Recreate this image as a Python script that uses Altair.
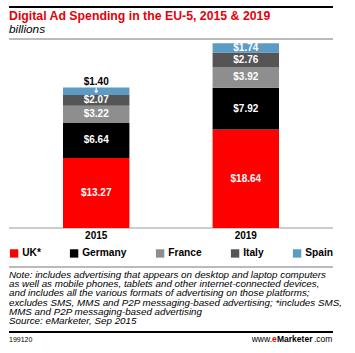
import altair as alt
import pandas as pd

# ---- data ----
years = ["2015", "2019"]
countries = ["UK*", "Germany", "France", "Italy", "Spain"]
values_2015 = [13.27, 6.64, 3.22, 2.07, 1.40]
values_2019 = [18.64, 7.92, 3.92, 2.76, 1.74]
colors = ["#fe0000", "#000000", "#8e8e8e", "#555555", "#5b9bc6"]

title_text = "Digital Ad Spending in the EU-5, 2015 & 2019"
subtitle_text = "billions"
note_lines = [
    "Note: includes advertising that appears on desktop and laptop computers",
    "as well as mobile phones, tablets and other internet-connected devices,",
    "and includes all the various formats of advertising on those platforms;",
    "excludes SMS, MMS and P2P messaging-based advertising; *includes SMS,",
    "MMS and P2P messaging-based advertising",
    "Source: eMarketer, Sep 2015",
]
chart_id = "199120"

FONT = "Liberation Sans"

rows = []
for yr, vals in zip(years, [values_2015, values_2019]):
    cum = 0.0
    for i, (c, v) in enumerate(zip(countries, vals)):
        rows.append({
            "year": yr, "country": c, "order": i, "value": v,
            "start": cum, "end": cum + v, "mid": cum + v / 2,
            "label": f"${v:.2f}", "outside": v < 1.5,
        })
        cum += v
df = pd.DataFrame(rows)

xscale = alt.Scale(domain=years, range=[21.4, 320.6], paddingInner=0.556, paddingOuter=0.278)
yscale = alt.Scale(domain=[0, 35], range=[228, 43.2], nice=False, zero=True)

base = alt.Chart(df)

bars = base.mark_bar(strokeWidth=0).encode(
    x=alt.X("year:N", scale=xscale, axis=None),
    y=alt.Y("start:Q", scale=yscale, axis=None),
    y2="end:Q",
    color=alt.Color(
        "country:N",
        scale=alt.Scale(domain=countries, range=colors),
        legend=alt.Legend(
            orient="none", legendX=9, legendY=248, direction="horizontal",
            title=None, symbolType="square", symbolSize=70, symbolStrokeWidth=0,
            symbolOpacity=1, labelFont=FONT, labelFontWeight="bold",
            labelFontSize=10.2, labelColor="#000", columnPadding=28,
            labelOffset=3, padding=0,
        ),
    ),
    order=alt.Order("order:Q"),
)

inside_labels = base.transform_filter("!datum.outside").mark_text(
    font=FONT, fontWeight="bold", fontSize=10, color="white", baseline="middle"
).encode(
    x=alt.X("year:N", scale=xscale),
    y=alt.Y("mid:Q", scale=yscale),
    text="label:N",
)

outside_labels = base.transform_filter("datum.outside").mark_text(
    font=FONT, fontWeight="bold", fontSize=10, color="black", baseline="middle", dy=-6
).encode(
    x=alt.X("year:N", scale=xscale),
    y=alt.Y("end:Q", scale=yscale),
    text="label:N",
)

leader = base.transform_filter("datum.outside").mark_rule(color="white", strokeWidth=1).encode(
    x=alt.X("year:N", scale=xscale),
    y=alt.Y("mid:Q", scale=yscale),
    y2="end:Q",
)
leader_dot = base.transform_filter("datum.outside").mark_point(
    filled=True, color="white", size=10, opacity=1
).encode(
    x=alt.X("year:N", scale=xscale),
    y=alt.Y("mid:Q", scale=yscale),
)

year_df = pd.DataFrame({"year": years})
year_labels = alt.Chart(year_df).mark_text(
    font=FONT, fontWeight="bold", fontSize=10, color="black", baseline="middle"
).encode(
    x=alt.X("year:N", scale=xscale),
    y=alt.value(236),
    text="year:N",
)

one = pd.DataFrame({"k": [0]})

def rule(x1, x2, y, color, w):
    return alt.Chart(one).mark_rule(color=color, strokeWidth=w).encode(
        x=alt.value(x1), x2=alt.value(x2), y=alt.value(y)
    )

def txt(text, x, y, size, weight="normal", style="normal", color="black", align="left", baseline="alphabetic", **kw):
    return alt.Chart(one).mark_text(
        text=text, font=FONT, fontSize=size, fontWeight=weight, fontStyle=style,
        color=color, align=align, baseline=baseline, **kw
    ).encode(x=alt.value(x), y=alt.value(y))

top_rule = rule(9, 333, 7, "black", 2)
sub_rule = rule(9, 333, 39, "#777777", 1)
axis_rule = rule(9, 333, 228, "#999999", 1)
legend_rule = rule(9, 333, 267, "#777777", 1)
foot_rule = rule(9, 333, 332, "black", 2)

title = txt(title_text, 9, 20, 12.3, weight="bold", color="#e5000b")
subtitle = txt(subtitle_text, 9, 33, 11.8, style="italic")
note = txt(note_lines, 9, 278, 9.8, style="italic", lineHeight=9.2)
cid = txt(chart_id, 9, 342, 7)
www = txt("www.", 272, 342, 8.5, align="right")
e_ = txt("e", 272, 342, 8.5, weight="bold", color="#e5000b")
mk = txt("Marketer", 277, 342, 8.5, weight="bold")
com = txt(".com", 314, 342, 8.5)

chart = alt.layer(
    top_rule, sub_rule, axis_rule, legend_rule, foot_rule,
    bars, leader, leader_dot, inside_labels, outside_labels, year_labels,
    title, subtitle, note, cid, www, e_, mk, com,
).properties(
    width=355, height=353,
    autosize=alt.AutoSizeParams(type="none"),
    padding=0,
    background="white",
).configure_view(stroke=None)

chart.save("out.html", embed_options={"renderer": "svg", "actions": False})
